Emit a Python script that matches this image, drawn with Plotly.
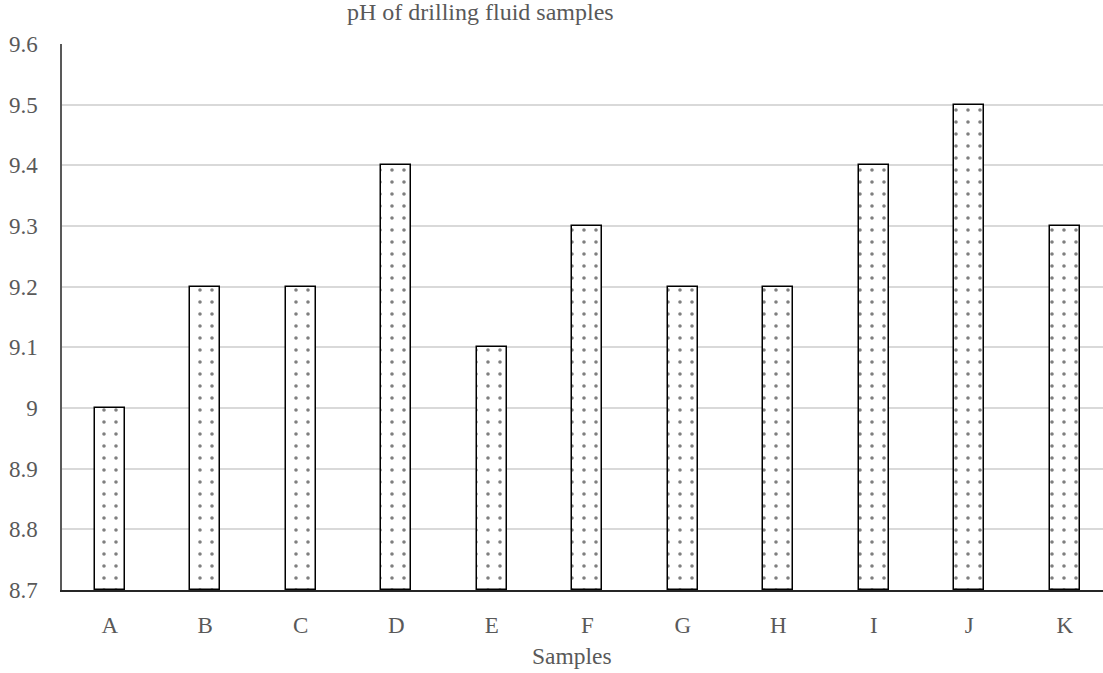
import plotly.graph_objects as go

samples = ["A", "B", "C", "D", "E", "F", "G", "H", "I", "J", "K"]
ph_values = [9.0, 9.2, 9.2, 9.4, 9.1, 9.3, 9.2, 9.2, 9.4, 9.5, 9.3]
y_ticks = [8.7, 8.8, 8.9, 9.0, 9.1, 9.2, 9.3, 9.4, 9.5, 9.6]
y_tick_labels = ["8.7", "8.8", "8.9", "9", "9.1", "9.2", "9.3", "9.4", "9.5", "9.6"]

FONT = "Liberation Serif"
GREY = "#595959"

fig = go.Figure()
fig.add_trace(go.Bar(
    x=list(range(len(samples))),
    y=[v - 8.7 for v in ph_values],
    base=8.7,
    width=0.314,
    marker=dict(
        color="white",
        line=dict(color="black", width=1.5),
        pattern=dict(shape=".", size=12, solidity=0.07, fgcolor="black", bgcolor="white"),
    ),
    hovertext=[f"{s}: {v}" for s, v in zip(samples, ph_values)],
))

fig.update_layout(
    width=1103, height=673,
    margin=dict(l=62, r=0, t=44, b=83),
    paper_bgcolor="white", plot_bgcolor="white",
    font=dict(family=FONT, size=23, color=GREY),
    showlegend=False,
    bargap=0,
    xaxis=dict(
        range=[-0.5, 10.4],
        tickmode="array",
        tickvals=list(range(len(samples))),
        ticktext=samples,
        showgrid=False,
        showline=True, linecolor="#262626", linewidth=1.5,
        ticks="", ticklabelstandoff=14,
        tickfont=dict(family=FONT, size=23, color=GREY),
        zeroline=False,
    ),
    yaxis=dict(
        range=[8.7, 9.6],
        tickmode="array",
        tickvals=y_ticks,
        ticktext=y_tick_labels,
        showgrid=True, gridcolor="#d9d9d9", gridwidth=1.5,
        showline=True, linecolor=GREY, linewidth=1.5,
        ticks="", ticklabelstandoff=18,
        tickfont=dict(family=FONT, size=23, color=GREY),
        zeroline=False,
    ),
    annotations=[
        dict(text="pH of drilling fluid samples", xref="paper", yref="paper",
             x=(480 - 62) / 1041, y=1 + (44 - 12) / 546, xanchor="center", yanchor="middle",
             showarrow=False, font=dict(family=FONT, size=24, color=GREY)),
        dict(text="Samples", xref="paper", yref="paper",
             x=(572 - 62) / 1041, y=-(656 - 590) / 546, xanchor="center", yanchor="middle",
             showarrow=False, font=dict(family=FONT, size=23.5, color=GREY)),
    ],
)

fig.write_html("out.html", config={"displayModeBar": False},
               post_script="document.body.style.margin='0px';")
